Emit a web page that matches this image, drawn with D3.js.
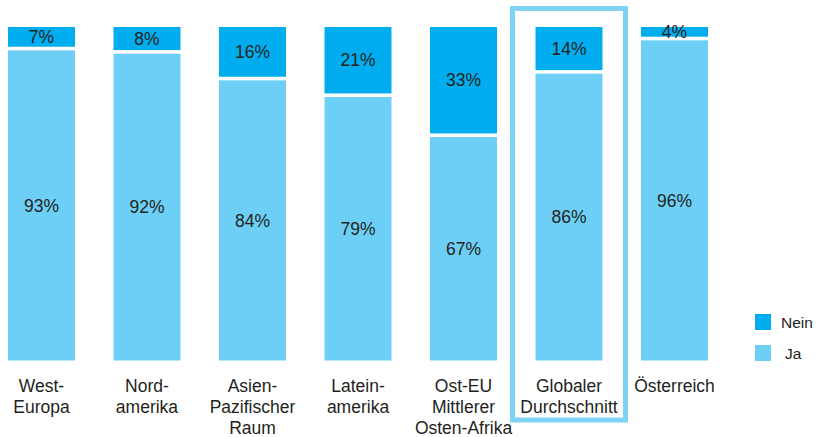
<!DOCTYPE html>
<html><head><meta charset="utf-8">
<script src="https://cdn.jsdelivr.net/npm/d3@7"></script>
<style>body{margin:0;background:#fff}svg{display:block}text{font-family:"Liberation Sans",Arial,sans-serif;fill:#231f20}</style>
</head><body><svg id="c" width="816" height="437"></svg>
<script>
const categories = [["West-","Europa"],["Nord-","amerika"],["Asien-","Pazifischer","Raum"],["Latein-","amerika"],["Ost-EU","Mittlerer","Osten-Afrika"],["Globaler","Durchschnitt"],["Österreich"]];
const ja = [93,92,84,79,67,86,96];
const nein = [7,8,16,21,33,14,4];
const seriesNames = ["Nein","Ja"];
const colors = {Nein:"#00aeef", Ja:"#6dcff6"};
const highlightIndex = 5;

const svg = d3.select("#c");
const x = d3.scaleBand().domain(d3.range(categories.length)).range([8, 708]).paddingInner(0.365).paddingOuter(0);
const y = d3.scaleLinear().domain([0,100]).range([360.5, 27]);
const gap = 3.6;
const g = svg.append("g");
categories.forEach((c,i)=>{
  const x0 = x(i), w = x.bandwidth();
  g.append("rect").attr("x",x0).attr("y",y(ja[i])).attr("width",w).attr("height",y(0)-y(ja[i])).attr("fill",colors.Ja);
  const top = y(ja[i]+nein[i]), bot = y(ja[i]) - gap;
  g.append("rect").attr("x",x0).attr("y",top).attr("width",w).attr("height",Math.max(0,bot-top)).attr("fill",colors.Nein);
  g.append("text").attr("x",x0+w/2).attr("y",(y(ja[i])+y(0))/2).attr("dy","0.35em").attr("text-anchor","middle").attr("font-size","17.5px").text(ja[i]+"%");
  g.append("text").attr("x",x0+w/2).attr("y",(top+bot)/2).attr("dy","0.35em").attr("text-anchor","middle").attr("font-size","17.5px").text(nein[i]+"%");
  const t = g.append("text").attr("text-anchor","middle").attr("font-size","17.5px");
  c.forEach((line,k)=>t.append("tspan").attr("x",x0+w/2).attr("y",391.5+k*21).text(line));
});
const hx = x(highlightIndex);
svg.append("rect").attr("x",hx-23).attr("y",8.5).attr("width",x.bandwidth()+46).attr("height",411.5).attr("fill","none").attr("stroke","#7fd3f5").attr("stroke-width",5);
const leg = svg.append("g");
seriesNames.forEach((s,k)=>{
  leg.append("rect").attr("x",755).attr("y",314+k*31).attr("width",16).attr("height",16).attr("fill",colors[s]);
  leg.append("text").attr("x",s==="Ja"?785:781).attr("y",328+k*31).attr("font-size","15.5px").text(s);
});
</script></body></html>
